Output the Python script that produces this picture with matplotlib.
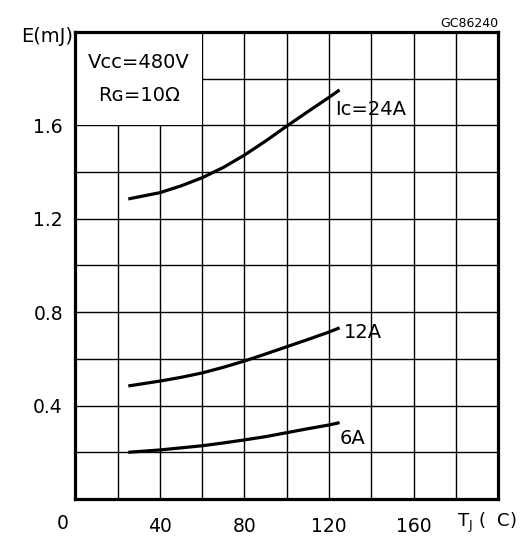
import matplotlib
matplotlib.use("Agg")
import matplotlib.pyplot as plt
from matplotlib.patches import Rectangle

# junction temperature (C) and switching energy (mJ)
tj = [25, 40, 50, 60, 70, 80, 90, 100, 110, 120, 125]
e_24a = [1.285, 1.312, 1.341, 1.376, 1.42, 1.473, 1.533, 1.597, 1.659, 1.72, 1.752]
e_12a = [0.484, 0.505, 0.521, 0.54, 0.564, 0.591, 0.621, 0.652, 0.683, 0.715, 0.733]
e_6a = [0.20, 0.21, 0.219, 0.228, 0.24, 0.253, 0.267, 0.284, 0.301, 0.317, 0.327]

x_ticks = [40, 80, 120, 160]
y_ticks = [0.4, 0.8, 1.2, 1.6]

plt.rcParams['font.family'] = ['DejaVu Sans']
fig = plt.figure(figsize=(5.26, 5.37), dpi=100)
ax = fig.add_axes([0.1435, 0.0708, 0.8033, 0.8696])
ax.set_xlim(0, 200)
ax.set_ylim(0, 2.0)

# grid
for gx in range(20, 200, 20):
    ax.axvline(gx, color='black', lw=1.0, zorder=1)
for gy in [0.2, 0.4, 0.6, 0.8, 1.0, 1.2, 1.4, 1.6, 1.8]:
    ax.axhline(gy, color='black', lw=1.0, zorder=1)

# white box for the conditions text
ax.add_patch(Rectangle((0, 1.6), 60, 0.4, facecolor='white', edgecolor='none', zorder=2))
ax.text(30, 1.871, 'Vᴄᴄ=480V', ha='center', va='center', fontsize=14, zorder=3)
ax.text(30, 1.726, 'Rɢ=10Ω', ha='center', va='center', fontsize=14, zorder=3)

for e in [e_24a, e_12a, e_6a]:
    ax.plot(tj, e, color='black', lw=2.3, zorder=4, solid_capstyle='butt')

ax.text(123, 1.666, 'Iᴄ=24A', ha='left', va='center', fontsize=14, zorder=4)
ax.text(127, 0.711, '12A', ha='left', va='center', fontsize=14, zorder=4)
ax.text(125, 0.261, '6A', ha='left', va='center', fontsize=14, zorder=4)

ax.set_xticks(x_ticks)
ax.set_xticklabels([str(v) for v in x_ticks])
ax.set_yticks(y_ticks)
ax.set_yticklabels(['%.1f' % v for v in y_ticks])
ax.tick_params(length=0, labelsize=13.5)
ax.tick_params(axis='x', pad=13)
ax.tick_params(axis='y', pad=9)
for s in ax.spines.values():
    s.set_linewidth(2.3)
    s.set_zorder(5)

ax.text(-6, -0.103, '0', ha='center', va='center', fontsize=13.5)
ax.text(180.5, -0.103, r'T$_\mathregular{J}$ (  C)', ha='left', va='center', fontsize=13)
ax.text(-0.005, 0.991, 'E(mJ)', ha='right', va='center', fontsize=14,
        transform=ax.transAxes)
ax.text(1.0, 1.005, 'GC86240', ha='right', va='bottom', fontsize=9,
        transform=ax.transAxes)

fig.savefig('out.png', dpi=100)
